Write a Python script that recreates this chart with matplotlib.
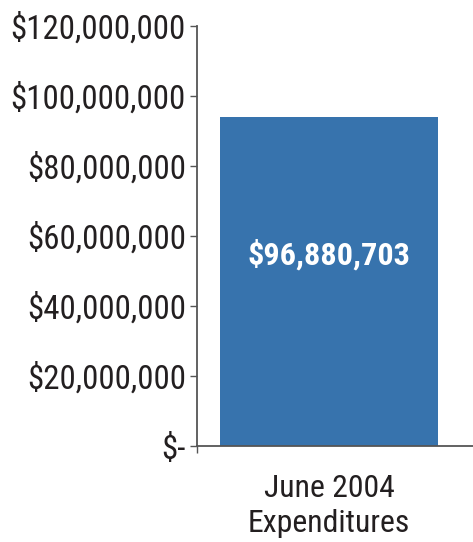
import matplotlib
matplotlib.use("Agg")
import matplotlib.pyplot as plt
from matplotlib.ticker import FuncFormatter
from matplotlib import font_manager

categories = ["June 2004\nExpenditures"]
bar_values = [94_100_000]          # bar height as drawn in the picture
bar_labels = ["$96,880,703"]
y_ticks = [0, 20_000_000, 40_000_000, 60_000_000, 80_000_000, 100_000_000, 120_000_000]

names = {f.name for f in font_manager.fontManager.ttflist}
fam = "DejaVu Sans"
for cand in ["Liberation Sans Narrow", "Roboto Condensed", "Open Sans Condensed",
             "Liberation Sans", "Roboto"]:
    if cand in names:
        fam = cand
        break
plt.rcParams["font.family"] = [fam, "DejaVu Sans"]

text_col = "#231f20"
bar_col = "#3773ad"
axis_col = "#555555"

fig = plt.figure(figsize=(4.73, 5.42), dpi=100)
renderer = fig.canvas.get_renderer()

def fit_size(s, target_px, weight="normal", base=20):
    t = fig.text(0, 0, s, fontsize=base, fontweight=weight)
    w = t.get_window_extent(renderer).width
    t.remove()
    return base * target_px / w

ytick_size = fit_size("$120,000,000", 175)
bar_size = fit_size(bar_labels[0], 163, weight="bold")
xlab_size = fit_size("Expenditures", 162)

ax = fig.add_axes([197/473, 1-446/542, 1-197/473, (446-26)/542])

x = list(range(len(categories)))
ax.bar(x, bar_values, width=0.826, color=bar_col, zorder=2)
for xi, v, lab in zip(x, bar_values, bar_labels):
    ax.text(xi, 54_500_000, lab, ha="center", va="center", color="white",
            fontsize=bar_size, fontweight="bold")

ax.set_ylim(0, 120_000_000)
ax.set_xlim(-0.5, 0.545)
ax.set_yticks(y_ticks)
ax.yaxis.set_major_formatter(FuncFormatter(lambda v, p: "$-" if v == 0 else f"${v:,.0f}"))
ax.set_xticks(x)
ax.set_xticklabels(categories, linespacing=1.25)
ax.set_xticks([-0.5], minor=True)

for s in ["top", "right"]:
    ax.spines[s].set_visible(False)
for s in ["left", "bottom"]:
    ax.spines[s].set_color(axis_col)
    ax.spines[s].set_linewidth(1.3)

ax.tick_params(axis="y", direction="out", length=5, width=1.0, color=axis_col,
               labelsize=ytick_size, labelcolor=text_col, pad=3)
ax.tick_params(axis="x", which="major", length=0, labelsize=xlab_size, labelcolor=text_col, pad=20)
ax.tick_params(axis="x", which="minor", direction="out", length=5, width=1.0, color=axis_col)

fig.savefig("out.png", dpi=100)
